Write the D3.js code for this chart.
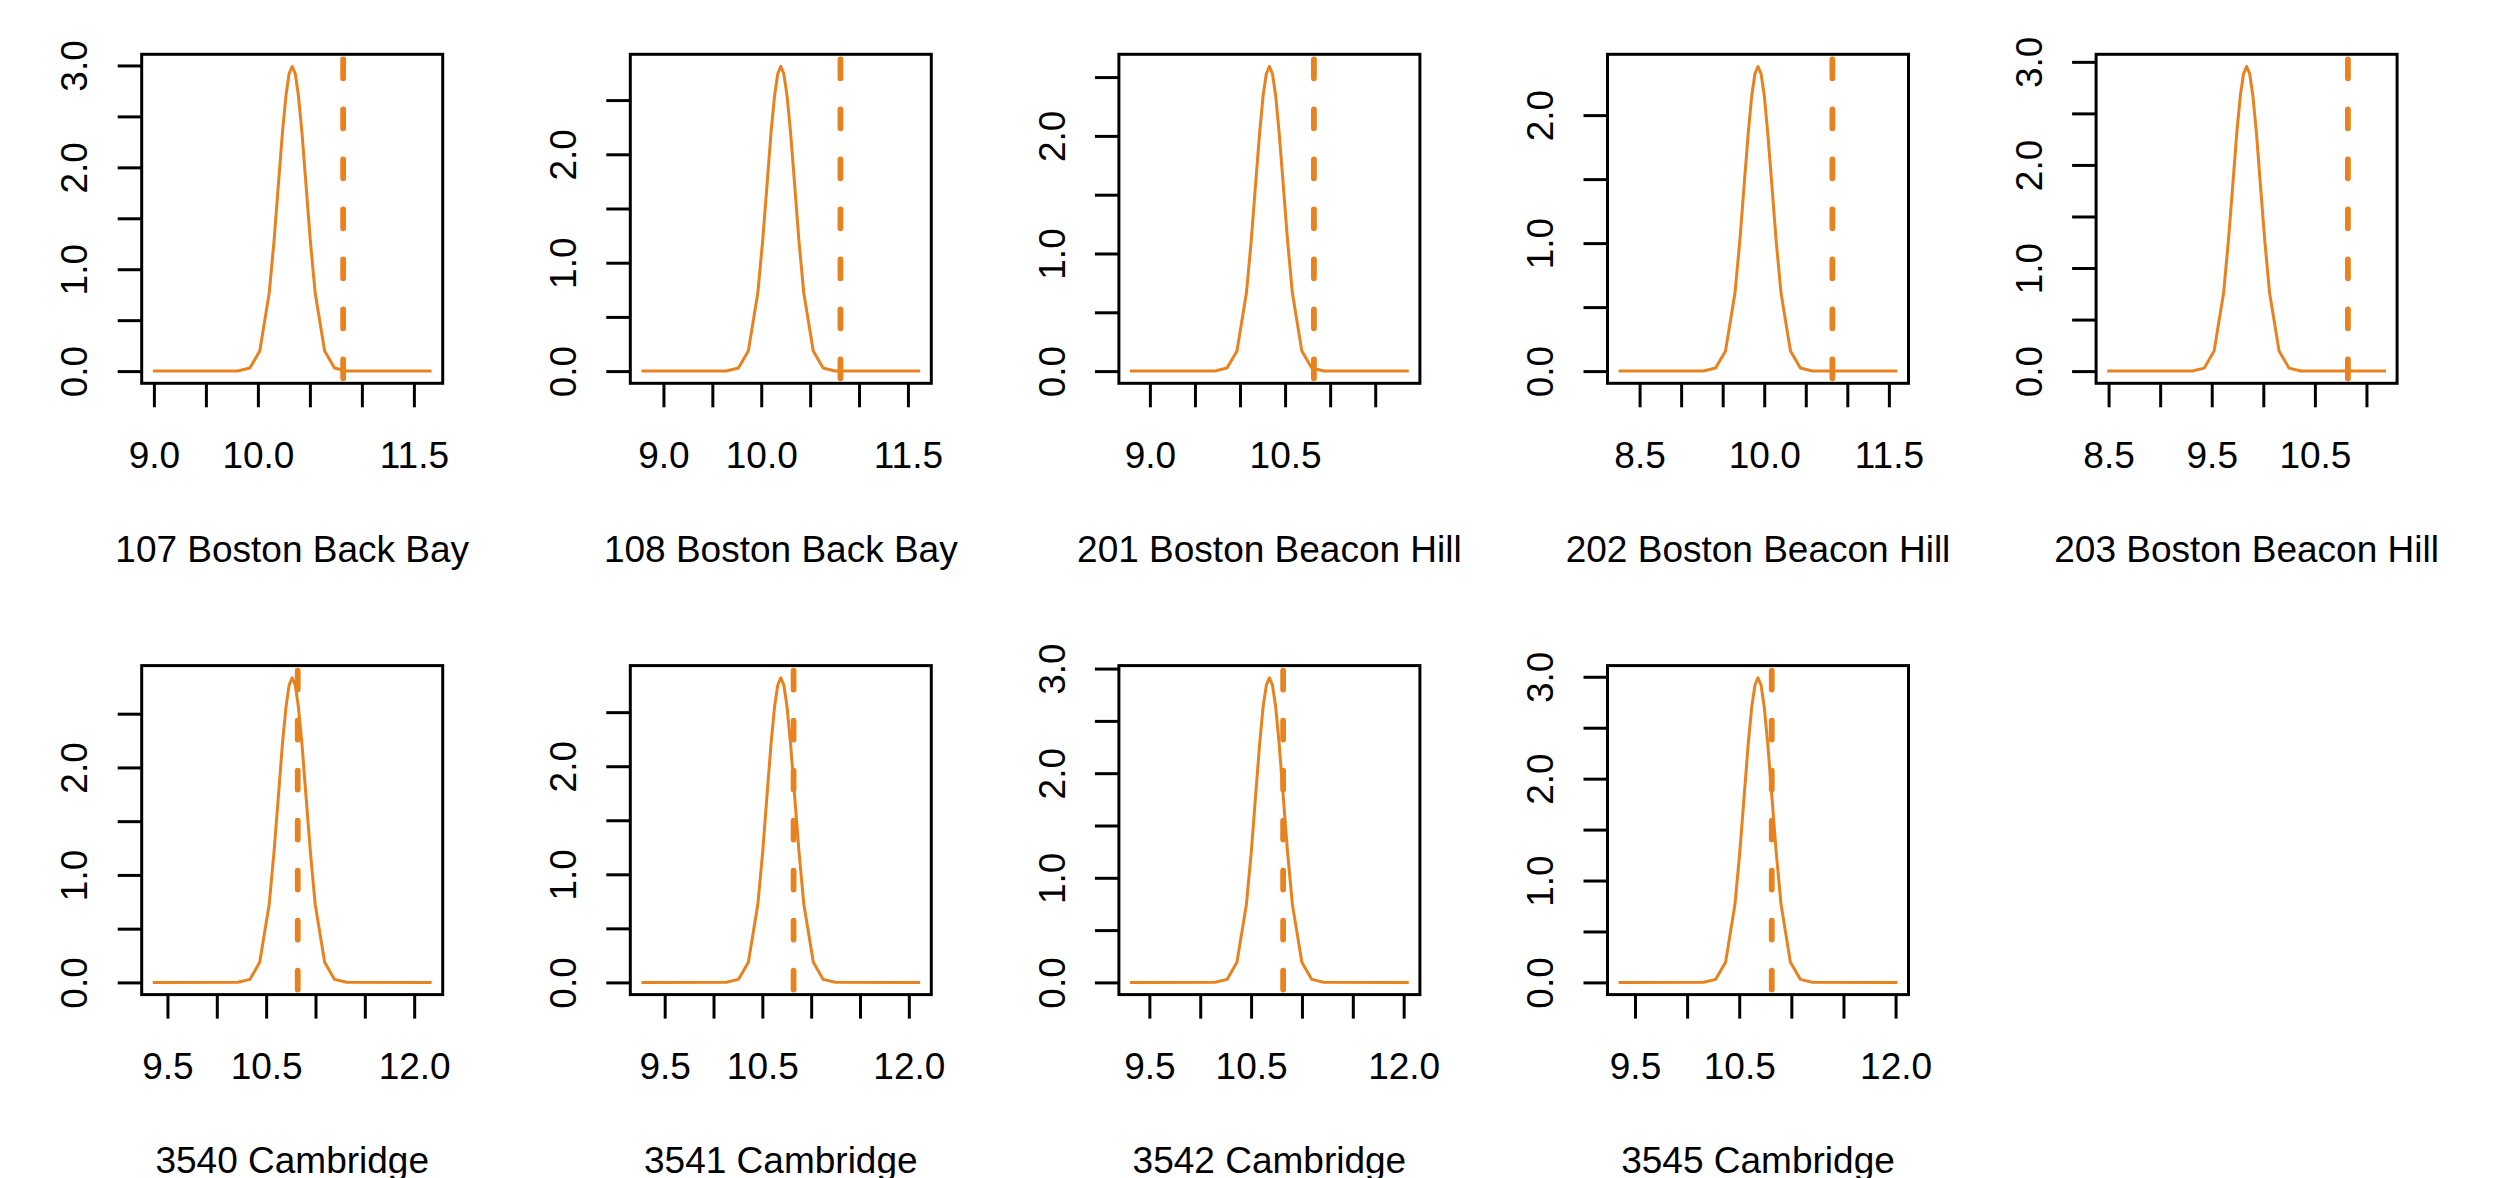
<!DOCTYPE html>
<html>
<head>
  <meta charset="utf-8">
  <title>Posterior densities by unit</title>
  <script src="https://d3js.org/d3.v7.min.js"></script>
  <style>
    body { margin: 0; background: #fff; }
    svg { display: block; }
    .panel text { font-family: "Liberation Sans", Arial, sans-serif; font-size: 37px; fill: #000; }
    .axis path { display: none; }
    .axis line { stroke: #000; stroke-width: 3; }
  </style>
</head>
<body>
<div id="chart"></div>
<script>
// panel titles
var titles = ["107 Boston Back Bay", "108 Boston Back Bay", "201 Boston Beacon Hill",
  "202 Boston Beacon Hill", "203 Boston Beacon Hill",
  "3540 Cambridge", "3541 Cambridge", "3542 Cambridge", "3545 Cambridge"];

// density curve points
var curveX = [
  [8.99, 9.807, 9.923, 10.018, 10.109, 10.156, 10.196, 10.236, 10.270, 10.300, 10.33, 10.360, 10.390, 10.424, 10.464, 10.504, 10.551, 10.642, 10.737, 10.853, 11.67],
  [8.775, 9.644, 9.767, 9.868, 9.965, 10.015, 10.058, 10.100, 10.136, 10.169, 10.20, 10.231, 10.264, 10.300, 10.343, 10.385, 10.435, 10.532, 10.633, 10.756, 11.625],
  [8.78, 9.723, 9.856, 9.966, 10.071, 10.125, 10.171, 10.218, 10.256, 10.292, 10.326, 10.360, 10.396, 10.434, 10.481, 10.527, 10.581, 10.686, 10.796, 10.929, 11.872],
  [8.248, 9.271, 9.415, 9.534, 9.648, 9.707, 9.757, 9.808, 9.850, 9.888, 9.925, 9.962, 10.001, 10.042, 10.093, 10.143, 10.202, 10.316, 10.435, 10.579, 11.602],
  [8.487, 9.311, 9.427, 9.523, 9.615, 9.662, 9.703, 9.743, 9.777, 9.808, 9.838, 9.868, 9.899, 9.933, 9.973, 10.014, 10.061, 10.153, 10.249, 10.365, 11.189],
  [9.352, 10.213, 10.335, 10.435, 10.531, 10.580, 10.623, 10.665, 10.701, 10.733, 10.764, 10.795, 10.827, 10.863, 10.905, 10.948, 10.997, 11.093, 11.193, 11.315, 12.176],
  [9.262, 10.133, 10.255, 10.357, 10.454, 10.504, 10.546, 10.589, 10.625, 10.658, 10.689, 10.720, 10.753, 10.789, 10.832, 10.875, 10.925, 11.022, 11.123, 11.246, 12.116],
  [9.31, 10.146, 10.264, 10.361, 10.454, 10.502, 10.543, 10.584, 10.618, 10.650, 10.68, 10.710, 10.742, 10.776, 10.817, 10.858, 10.906, 10.999, 11.097, 11.214, 12.05],
  [9.343, 10.159, 10.274, 10.369, 10.459, 10.506, 10.546, 10.586, 10.620, 10.651, 10.68, 10.709, 10.740, 10.774, 10.814, 10.854, 10.901, 10.991, 11.086, 11.201, 12.017]
];
var curveY = [
  [0, 0.0015, 0.030, 0.198, 0.766, 1.285, 1.813, 2.340, 2.702, 2.919, 2.99, 2.919, 2.702, 2.340, 1.813, 1.285, 0.766, 0.198, 0.030, 0.0015, 0],
  [0, 0.0014, 0.028, 0.186, 0.720, 1.207, 1.704, 2.199, 2.539, 2.743, 2.81, 2.743, 2.539, 2.199, 1.704, 1.207, 0.720, 0.186, 0.028, 0.0014, 0],
  [0, 0.0013, 0.026, 0.172, 0.664, 1.113, 1.571, 2.027, 2.341, 2.528, 2.59, 2.528, 2.341, 2.027, 1.571, 1.113, 0.664, 0.172, 0.026, 0.0013, 0],
  [0, 0.0012, 0.024, 0.158, 0.610, 1.022, 1.443, 1.863, 2.151, 2.323, 2.38, 2.323, 2.151, 1.863, 1.443, 1.022, 0.610, 0.158, 0.024, 0.0012, 0],
  [0, 0.0015, 0.029, 0.196, 0.757, 1.269, 1.792, 2.313, 2.670, 2.884, 2.955, 2.884, 2.670, 2.313, 1.792, 1.269, 0.757, 0.196, 0.029, 0.0015, 0],
  [0, 0.0014, 0.028, 0.188, 0.726, 1.217, 1.719, 2.218, 2.561, 2.766, 2.834, 2.766, 2.561, 2.218, 1.719, 1.217, 0.726, 0.188, 0.028, 0.0014, 0],
  [0, 0.0014, 0.028, 0.187, 0.722, 1.211, 1.709, 2.206, 2.547, 2.751, 2.818, 2.751, 2.547, 2.206, 1.709, 1.211, 0.722, 0.187, 0.028, 0.0014, 0],
  [0, 0.0015, 0.029, 0.193, 0.746, 1.251, 1.766, 2.279, 2.632, 2.842, 2.912, 2.842, 2.632, 2.279, 1.766, 1.251, 0.746, 0.193, 0.029, 0.0015, 0],
  [0, 0.0015, 0.030, 0.198, 0.766, 1.285, 1.813, 2.340, 2.702, 2.919, 2.99, 2.919, 2.702, 2.340, 1.813, 1.285, 0.766, 0.198, 0.030, 0.0015, 0]
];

// dashed reference value in each panel
var refLine = [10.82, 10.81, 10.82, 10.82, 10.82, 10.82, 10.82, 10.815, 10.812];

// ticks and the labels R actually printed
var xTicks = [
  [9.0, 9.5, 10.0, 10.5, 11.0, 11.5],
  [9.0, 9.5, 10.0, 10.5, 11.0, 11.5],
  [9.0, 9.5, 10.0, 10.5, 11.0, 11.5],
  [8.5, 9.0, 9.5, 10.0, 10.5, 11.0, 11.5],
  [8.5, 9.0, 9.5, 10.0, 10.5, 11.0],
  [9.5, 10.0, 10.5, 11.0, 11.5, 12.0],
  [9.5, 10.0, 10.5, 11.0, 11.5, 12.0],
  [9.5, 10.0, 10.5, 11.0, 11.5, 12.0],
  [9.5, 10.0, 10.5, 11.0, 11.5, 12.0]
];
var xTickLabels = [
  ["9.0", "10.0", "11.5"],
  ["9.0", "10.0", "11.5"],
  ["9.0", "10.5"],
  ["8.5", "10.0", "11.5"],
  ["8.5", "9.5", "10.5"],
  ["9.5", "10.5", "12.0"],
  ["9.5", "10.5", "12.0"],
  ["9.5", "10.5", "12.0"],
  ["9.5", "10.5", "12.0"]
];
var yTicks = [
  [0, 0.5, 1, 1.5, 2, 2.5, 3],
  [0, 0.5, 1, 1.5, 2, 2.5],
  [0, 0.5, 1, 1.5, 2, 2.5],
  [0, 0.5, 1, 1.5, 2],
  [0, 0.5, 1, 1.5, 2, 2.5, 3],
  [0, 0.5, 1, 1.5, 2, 2.5],
  [0, 0.5, 1, 1.5, 2, 2.5],
  [0, 0.5, 1, 1.5, 2, 2.5, 3],
  [0, 0.5, 1, 1.5, 2, 2.5, 3]
];
var yTickLabels = [
  ["0.0", "1.0", "2.0", "3.0"],
  ["0.0", "1.0", "2.0"],
  ["0.0", "1.0", "2.0"],
  ["0.0", "1.0", "2.0"],
  ["0.0", "1.0", "2.0", "3.0"],
  ["0.0", "1.0", "2.0"],
  ["0.0", "1.0", "2.0"],
  ["0.0", "1.0", "2.0", "3.0"],
  ["0.0", "1.0", "2.0", "3.0"]
];

var orange = "#E8821E";
var W = 2498, H = 1178;
var pw = 301, ph = 329;       // plot box size
var colStep = 488.6, rowStep = 611.3;
var left0 = 141.7, top0 = 54.3;
var tick = 24;

var svg = d3.select("#chart").append("svg")
  .attr("width", W)
  .attr("height", H);

// R style: pad the data range by 4% on each side
function padded(ext) {
  var r = ext[1] - ext[0];
  return [ext[0] - 0.04 * r, ext[1] + 0.04 * r];
}

titles.forEach(function(title, i) {
  var col = i % 5, row = Math.floor(i / 5);
  var g = svg.append("g")
    .attr("class", "panel")
    .attr("transform", "translate(" + (left0 + col * colStep) + "," + (top0 + row * rowStep) + ")");

  var pts = curveX[i].map(function(x, j) { return [x, curveY[i][j]]; });

  var x = d3.scaleLinear().domain(padded(d3.extent(curveX[i]))).range([0, pw]);
  var y = d3.scaleLinear().domain(padded([0, d3.max(curveY[i])])).range([ph, 0]);

  var clipId = "clip" + i;
  g.append("clipPath").attr("id", clipId)
    .append("rect").attr("width", pw).attr("height", ph);

  // density curve
  g.append("path")
    .datum(pts)
    .attr("fill", "none")
    .attr("stroke", orange)
    .attr("stroke-width", 3)
    .attr("stroke-linejoin", "round")
    .attr("d", d3.line().x(function(d) { return x(d[0]); }).y(function(d) { return y(d[1]); }));

  // dashed reference line
  g.append("line")
    .attr("clip-path", "url(#" + clipId + ")")
    .attr("x1", x(refLine[i])).attr("x2", x(refLine[i]))
    .attr("y1", 5).attr("y2", ph + 10)
    .attr("stroke", orange)
    .attr("stroke-width", 5.8)
    .attr("stroke-linecap", "round")
    .attr("stroke-dasharray", "19 31");

  // x axis
  var xa = g.append("g")
    .attr("class", "axis")
    .attr("transform", "translate(0," + ph + ")")
    .call(d3.axisBottom(x)
      .tickValues(xTicks[i])
      .tickSize(tick)
      .tickPadding(34.4)
      .tickFormat(function(d) {
        var s = d.toFixed(1);
        return xTickLabels[i].indexOf(s) >= 0 ? s : "";
      }));
  xa.selectAll("text").attr("font-size", null).attr("font-family", null);

  // y axis, labels turned like R's default
  var ya = g.append("g")
    .attr("class", "axis")
    .call(d3.axisLeft(y)
      .tickValues(yTicks[i])
      .tickSize(tick)
      .tickFormat(function(d) {
        var s = d.toFixed(1);
        return yTickLabels[i].indexOf(s) >= 0 ? s : "";
      }));
  ya.selectAll("text")
    .attr("font-size", null).attr("font-family", null)
    .attr("transform", "rotate(-90)")
    .attr("x", 0)
    .attr("y", -54.4)
    .attr("dy", 0)
    .attr("text-anchor", "middle");

  // plot box
  g.append("rect")
    .attr("width", pw).attr("height", ph)
    .attr("fill", "none")
    .attr("stroke", "#000")
    .attr("stroke-width", 3);

  // title under the axis
  g.append("text")
    .attr("x", pw / 2)
    .attr("y", ph + 178.5)
    .attr("text-anchor", "middle")
    .text(title);
});
</script>
</body>
</html>
